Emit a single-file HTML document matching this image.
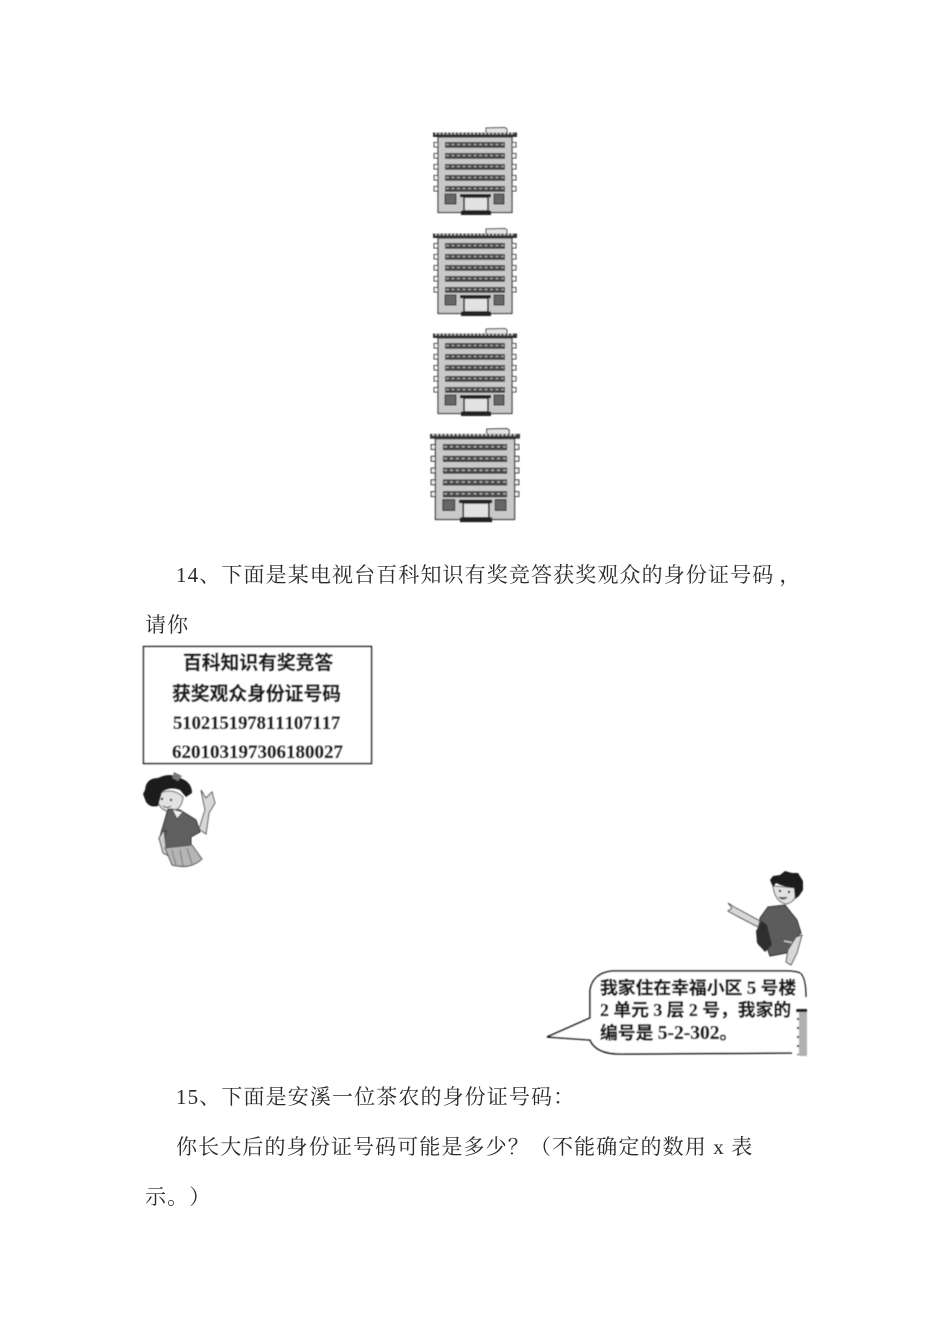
<!DOCTYPE html>
<html><head><meta charset="utf-8"><style>
html,body{margin:0;padding:0;background:#fff}
svg{display:block}
text{text-spacing-trim:space-all;font-kerning:none}
.m{font-family:"Liberation Serif","Noto Serif CJK SC",serif;font-size:21px;letter-spacing:1.12px;fill:#2a2a2a}
.t{font-family:"Liberation Serif","Noto Sans CJK SC",sans-serif;font-size:18.8px;font-weight:700;fill:#1c1c1c;stroke:#1c1c1c;stroke-width:.35px}
.b{font-family:"Liberation Serif","Noto Sans CJK SC",sans-serif;font-size:17.8px;font-weight:700;fill:#1c1c1c;stroke:#1c1c1c;stroke-width:.35px}
</style></head><body>
<svg width="950" height="1344" viewBox="0 0 950 1344" xmlns="http://www.w3.org/2000/svg">
<defs>
<filter id="s" x="-5%" y="-5%" width="110%" height="110%"><feGaussianBlur stdDeviation="0.5"/></filter>
<filter id="s2" x="-5%" y="-5%" width="110%" height="110%"><feGaussianBlur stdDeviation="0.65"/></filter>
<g id="bld">
<path d="M486 133 L486 128 L505 127.500 L507 129 L507 133" fill="#e4e4e4" stroke="#444"/>
<rect x="438" y="137" width="74" height="75.500" fill="#c9c9c9" stroke="#3c3c3c" stroke-width="1.200"/>
<rect x="433" y="132.500" width="84" height="4.500" fill="#333"/>
<line x1="435" y1="133.500" x2="515" y2="133.500" stroke="#ccc" stroke-width="1.800" stroke-dasharray="2 1.800"/>
<g fill="#f2f2f2" stroke="#333" stroke-width="1">
<rect x="434" y="142.500" width="4" height="4.500"/><rect x="512" y="142.500" width="4" height="4.500"/>
<rect x="434" y="153.500" width="4" height="4.500"/><rect x="512" y="153.500" width="4" height="4.500"/>
<rect x="434" y="164.500" width="4" height="4.500"/><rect x="512" y="164.500" width="4" height="4.500"/>
<rect x="434" y="175.500" width="4" height="4.500"/><rect x="512" y="175.500" width="4" height="4.500"/>
<rect x="434" y="186.500" width="4" height="4.500"/><rect x="512" y="186.500" width="4" height="4.500"/>
</g>
<g fill="#444">
<rect x="445" y="142" width="60" height="5.800"/><rect x="445" y="153" width="60" height="5.800"/>
<rect x="445" y="164" width="60" height="5.800"/><rect x="445" y="175" width="60" height="5.800"/>
<rect x="445" y="186" width="60" height="5.800"/>
</g>
<g stroke="#a8a8a8" stroke-width="1.600" stroke-dasharray="3 2.500">
<line x1="446" y1="144.500" x2="504" y2="144.500"/><line x1="446" y1="155.500" x2="504" y2="155.500"/>
<line x1="446" y1="166.500" x2="504" y2="166.500"/><line x1="446" y1="177.500" x2="504" y2="177.500"/>
<line x1="446" y1="188.500" x2="504" y2="188.500"/>
</g>
<rect x="445" y="194" width="11" height="10" fill="#666" stroke="#333"/>
<rect x="494" y="194" width="10" height="10" fill="#666" stroke="#333"/>
<rect x="464" y="197" width="24" height="14" fill="#e2e2e2" stroke="#222" stroke-width="1.500"/>
<rect x="460" y="194" width="31" height="3.200" fill="#222"/>
<rect x="461" y="210.500" width="30" height="4.500" fill="#222"/>
</g>
</defs>

<g filter="url(#s)">
<use href="#bld"/>
<use href="#bld" transform="translate(0,101)"/>
<use href="#bld" transform="translate(0,201)"/>
<use href="#bld" transform="translate(475,428) scale(1.07) translate(-475,-127)"/>
</g>

<text class="m" x="176" y="582">14、下面是某电视台百科知识有奖竞答获奖观众的身份证号码<tspan dx="5">，</tspan></text>
<text class="m" x="145" y="632">请你</text>

<g filter="url(#s)">
<rect x="143.500" y="646.500" width="228" height="117" fill="#fff" stroke="#222" stroke-width="1.500"/>
<text class="t" x="183" y="669">百科知识有奖竞答</text>
<text class="t" x="172" y="700">获奖观众身份证号码</text>
<text class="t" x="173" y="729" style="font-size:18.600px">510215197811107117</text>
<text class="t" x="172" y="758" style="font-size:19px">620103197306180027</text>
</g>

<!-- girl -->
<g filter="url(#s2)">
<path d="M199 829 L205 810 L201 790 L206 798 L212 792 L215 803 L209 813 L206 834 Z" fill="#d8d8d8" stroke="#555"/>
<path d="M156 795 Q172 786 183 797 Q182 810 170 812 Q158 810 156 795 Z" fill="#e2e2e2" stroke="#666"/>
<path d="M145 790 Q146 778 158 778 Q170 772 180 778 Q192 782 192 793 L186 797 L180 790 Q170 786 162 792 L158 806 Q150 808 146 802 L143 794 Z" fill="#1d1d1d"/>
<path d="M174 772 L182 776 L178 781 L172 778 Z" fill="#777"/>
<circle cx="162" cy="799" r="1.200" fill="#222"/><circle cx="171" cy="800" r="1.200" fill="#222"/>
<path d="M163 806 Q167 809 171 806" fill="none" stroke="#444"/>
<path d="M168 809 L180 810 L196 820 L200 832 L191 837 L191 848 L163 848 L166 830 L159 840 Z" fill="#5f5f5f" stroke="#333"/>
<path d="M172 809 L183 812 L177 819 Z" fill="#eee" stroke="#555"/>
<path d="M159 838 L164 830 L166 848 L171 857 L163 853 Z" fill="#cfcfcf" stroke="#555"/>
<path d="M165 848 L192 845 L202 859 Q190 870 172 865 Z" fill="#b5b5b5" stroke="#555"/>
<path d="M172 850 L176 865 M180 850 L183 866 M187 848 L192 864" stroke="#777" fill="none"/>
</g>

<!-- boy -->
<g filter="url(#s2)">
<path d="M728 903 L736 908 L760 921 L758 927 L737 916 L728 911 L732 908 Z" fill="#d8d8d8" stroke="#555"/>
<path d="M773 886 L797 888 Q797 902 786 904 Q775 902 773 886 Z" fill="#e2e2e2" stroke="#666"/>
<path d="M770 880 L773 876 L780 875 L785 871 L792 873 L798 873 L803 881 L803 890 L799 896 L795 899 L794 888 Q784 887 776 883 L773 887 Z" fill="#1f1f1f"/>
<circle cx="780" cy="891" r="1.200" fill="#222"/><circle cx="789" cy="892" r="1.200" fill="#222"/>
<path d="M779 897 Q783 901 787 897" fill="#666" stroke="#444"/>
<path d="M760 918 L768 907 L785 905 L797 920 L801 933 L795 938 L792 952 L770 956 L767 948 L759 945 Z" fill="#5c5c5c" stroke="#333"/>
<path d="M756 931 L762 921 L767 925 L772 945 L765 952 L757 943 Z" fill="#2f2f2f"/>
<path d="M784 941 L794 943" stroke="#ccc" stroke-width="1.500"/>
<path d="M796 937 L802 935 L797 953 L791 965 L786 962 L788 950 Z" fill="#d8d8d8" stroke="#555"/>
</g>

<!-- bubble -->
<g filter="url(#s)">
<path d="M800 973 Q795 971 787 971 L612 971 Q593 973 590 990 L590 1018 L547 1037 L590 1040 Q596 1054 620 1054 L792 1053" fill="#fff" stroke="#1c1c1c" stroke-width="1.600"/>
<path d="M800 973 Q806 977 806 997" fill="none" stroke="#222" stroke-width="1.300"/>
<rect x="799" y="1010" width="8" height="46" fill="#b0b0b0"/>
<rect x="796" y="1009" width="11" height="3" fill="#222"/>
<path d="M798 1018V1055" stroke="#555" stroke-width="2" stroke-dasharray="2 7"/>
<text class="b" x="600" y="994" xml:space="preserve">我家住在幸福小区 <tspan style="font-size:19px">5</tspan> 号楼</text>
<text class="b" x="600" y="1016" xml:space="preserve">2 单元 3 层 2 号，我家的</text>
<text class="b" x="600" y="1039" xml:space="preserve">编号是 <tspan style="font-size:19.500px">5-2-302</tspan>。</text>
</g>

<text class="m" x="176" y="1104">15、下面是安溪一位茶农的身份证号码：</text>
<text class="m" x="176" y="1154" xml:space="preserve">你长大后的身份证号码可能是多少？（不能确定的数用 x 表</text>
<text class="m" x="145" y="1204">示。）</text>
</svg>
</body></html>
